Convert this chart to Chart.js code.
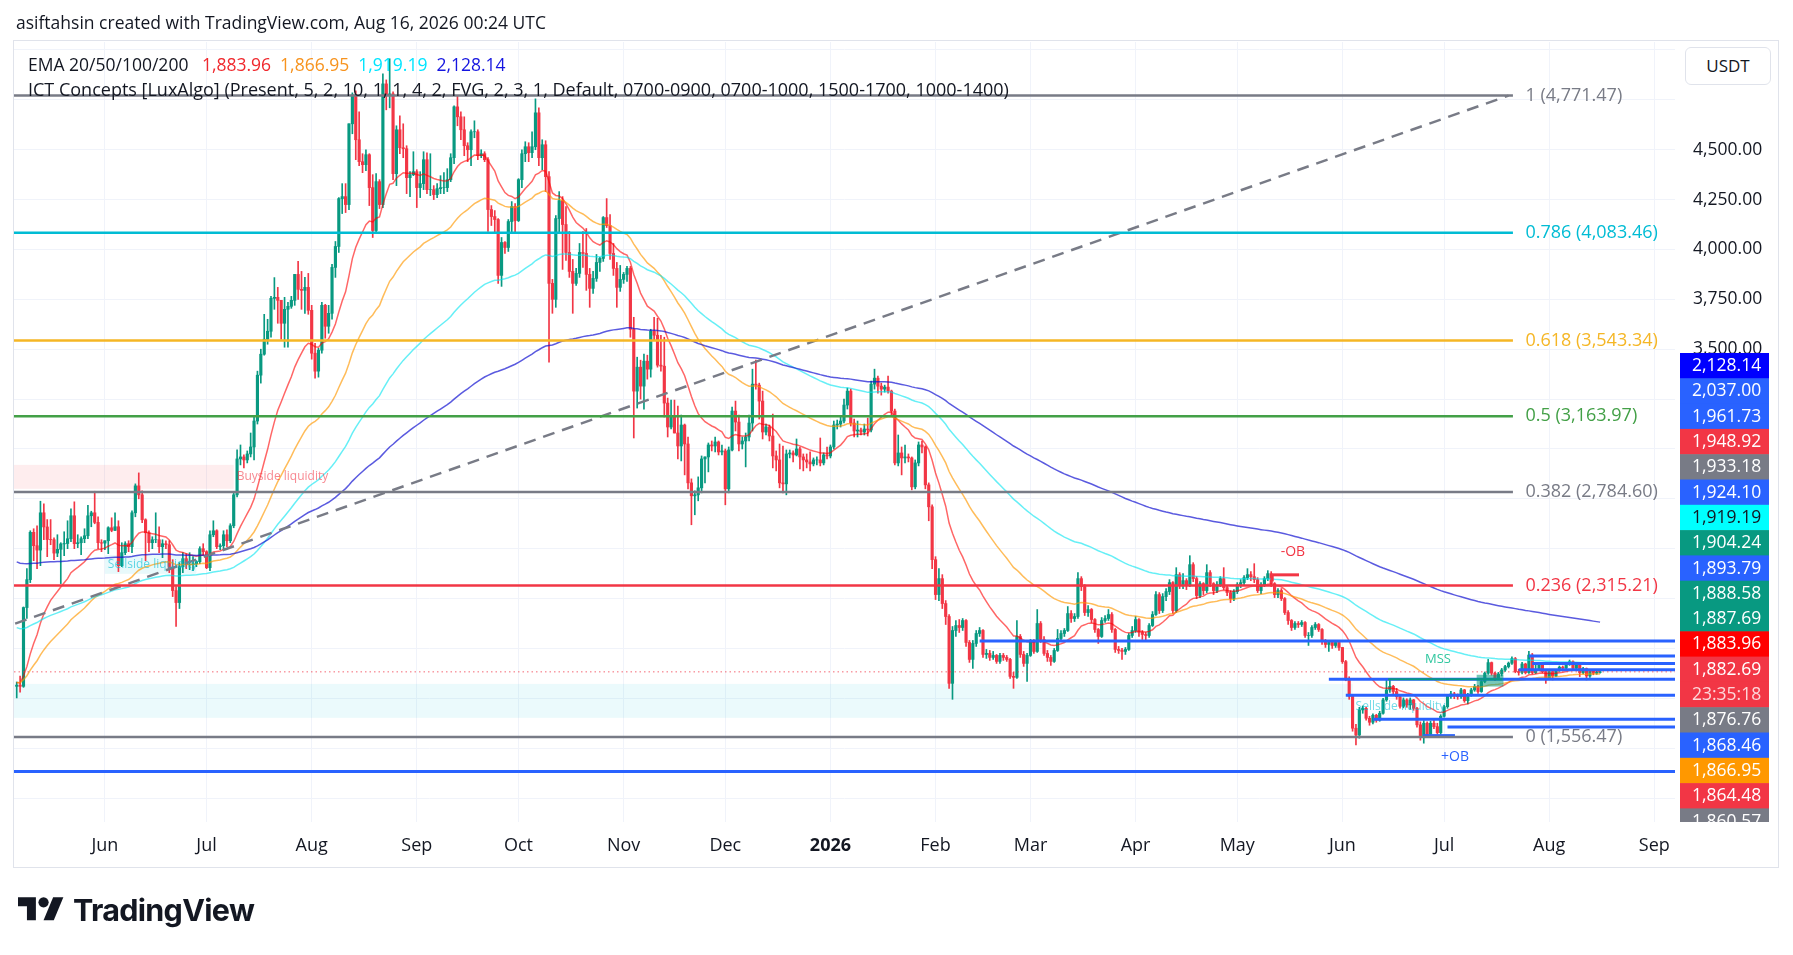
<!DOCTYPE html>
<html>
<head>
<meta charset="utf-8">
<title>ETHUSDT 1D</title>
<script src="https://cdn.jsdelivr.net/npm/chart.js@4.4.1/dist/chart.umd.min.js"></script>
<style>
  html, body { margin: 0; padding: 0; background: #fff; }
  body { width: 1793px; height: 955px; overflow: hidden; position: relative;
         font-family: 'Open Sans', sans-serif; color: #131722; }
  #wrap { position: absolute; left: 0; top: 0; width: 1793px; height: 955px; }
  .abs { position: absolute; white-space: nowrap; }
  #frame { left: 13px; top: 40px; width: 1764px; height: 826px; border: 1px solid #e0e3eb; pointer-events: none; }
  #title { left: 16px; top: 10px; font-size: 17.5px; line-height: 24px; }
  #legend1 { left: 28px; top: 52px; font-size: 17.5px; line-height: 24px; }
  #legend2 { left: 28px; top: 77px; font-size: 18px; line-height: 24px; }
  #legend1 span { margin-left: 9px; }
  #usdt { left: 1685px; top: 47px; width: 84px; height: 36px; border: 1px solid #e0e3eb; border-radius: 6px;
          font-size: 17px; line-height: 36px; text-align: center; background: #fff; }
  #logo { left: 18px; top: 892px; }
  #brand { left: 73px; top: 891px; font-family: Inter, sans-serif; font-weight: 700; font-size: 30.5px;
           line-height: 38px; letter-spacing: -0.7px; }
</style>
</head>
<body>
<div id="wrap"><canvas id="chart"></canvas></div>
<div id="frame" class="abs"></div>
<div id="title" class="abs">asiftahsin created with TradingView.com, Aug 16, 2026 00:24 UTC</div>
<div id="legend1" class="abs">EMA 20/50/100/200 <span style="color:#f0282d">1,883.96</span><span style="color:#f7931e">1,866.95</span><span style="color:#00e5ff">1,919.19</span><span style="color:#1515e0">2,128.14</span></div>
<div id="legend2" class="abs">ICT Concepts [LuxAlgo] (Present, 5, 2, 10, 1, 1, 4, 2, FVG, 2, 3, 1, Default, 0700-0900, 0700-1000, 1500-1700, 1000-1400)</div>
<div id="usdt" class="abs">USDT</div>
<svg id="logo" class="abs" width="46" height="36" viewBox="0 0 36 28">
  <path d="M14 22H7V11H0V4h14v18z" fill="#131722"/>
  <circle cx="20" cy="8" r="4" fill="#131722"/>
  <path d="M28 22h-8l7.5-18h8L28 22z" fill="#131722"/>
</svg>
<div id="brand" class="abs">TradingView</div>

<script>
// daily ETHUSDT candles, May 6 2025 .. Aug 16 2026; x = days counted from Jun 1 2025
const startDay = -26;
const firstOpen = 1810;

const closes = [
  1816,1810,2205,2345,2582,2515,2493,2680,2609,2546,2545,2478,2497,2524,2526,2550,2665,2525,2530,2550,2565,2665,2680,2632,2530,2528,
  2540,2605,2592,2610,2415,2480,2525,2510,2680,2815,2770,2645,2580,2530,2545,2545,2510,2525,2520,2405,2290,2230,2410,2450,2420,2420,2425,2435,2500,2485,
  2405,2570,2590,2510,2515,2570,2540,2615,2770,2950,2960,2945,2975,3010,3140,3370,3475,3550,3590,3755,3760,3745,3630,3700,3715,3745,3875,3800,3795,3810,3695,
  3480,3390,3495,3720,3615,3680,3910,4015,4255,4265,4225,4630,4775,4550,4440,4425,4475,4310,4095,4340,4225,4830,4775,4780,4380,4600,4510,4505,4360,4375,4390,
  4310,4330,4450,4300,4300,4275,4305,4310,4310,4350,4460,4715,4665,4600,4520,4500,4590,4590,4470,4480,4450,4200,4165,4150,3870,4035,4010,4140,4215,4145,
  4350,4480,4515,4485,4515,4685,4460,4525,4365,3830,3750,4155,4245,4125,3985,3890,3830,3880,3985,3980,3875,3805,3855,3935,3955,4160,4120,3980,3905,3810,3850,
  3875,3905,3600,3290,3410,3315,3440,3400,3590,3570,3420,3415,3230,3110,3165,3080,3015,3120,3025,2830,2765,2770,2805,2950,2960,3020,3015,3035,2985,2990,
  2800,2995,3190,3135,3025,3040,3060,3130,3325,3320,3240,3085,3110,3065,2965,2945,2830,2825,2975,2980,2970,3000,2960,2945,2935,2925,2945,2945,2930,2970,2965,
  3010,3120,3125,3140,3220,3290,3130,3090,3095,3085,3100,3095,3325,3355,3315,3300,3310,3290,3190,2930,2980,2955,2960,2955,2810,2930,3020,3010,2820,2710,2445,
  2270,2350,2225,2160,1825,2090,2115,2105,2140,2030,1945,2025,2075,2090,1970,1975,1955,1965,1935,1965,1955,1945,1860,1855,2060,1970,1925,1965,
  2040,1985,2125,2045,1975,1955,1935,1990,2050,2075,2090,2175,2150,2160,2350,2310,2180,2195,2145,2095,2060,2140,2150,2170,2095,1995,1990,1985,1995,2065,2090,
  2145,2080,2070,2065,2115,2170,2270,2190,2260,2285,2330,2190,2370,2315,2340,2320,2420,2350,2265,2325,2290,2380,2325,2290,2320,2350,2305,2280,2250,2285,
  2320,2330,2355,2370,2360,2345,2290,2320,2350,2375,2325,2270,2290,2250,2180,2140,2105,2125,2120,2130,2065,2065,2105,2120,2095,2040,2020,2030,2015,2030,2005,
  1934,1850,1760,1600,1566,1692,1700,1650,1630,1665,1640,1675,1742,1792,1810,1784,1758,1710,1742,1717,1742,1700,1617,1558,1625,1570,1625,1608,1578,1660,
  1708,1760,1772,1762,1758,1792,1738,1767,1792,1809,1784,1834,1876,1929,1876,1850,1872,1892,1909,1926,1949,1884,1880,1922,1879,1967,1879,1895,1917,1884,1850,
  1884,1862,1889,1906,1902,1922,1934,1901,1916,1879,1899,1862,1884,1876,1880,1882.69
];
const highs = [
  1832,1862,2208,2400,2590,2600,2615,2738,2725,2646,2646,2555,2570,2530,2585,2640,2700,2735,2570,2560,2600,2718,2688,2788,2660,2545,
  2540,2610,2655,2680,2640,2530,2535,2540,2690,2825,2880,2790,2650,2590,2560,2680,2610,2545,2540,2540,2445,2310,2430,2480,2475,2480,2460,2440,2510,2525,
  2490,2590,2640,2595,2525,2590,2595,2625,2785,2995,3020,2970,2990,3080,3160,3390,3500,3675,3650,3765,3859,3810,3745,3760,3735,3765,3875,3941,3890,3860,3880,
  3720,3530,3505,3735,3725,3720,3925,4040,4260,4330,4330,4630,4785,4795,4690,4480,4500,4480,4375,4380,4350,4880,4850,4956,4790,4620,4670,4630,4520,4390,4490,
  4400,4390,4490,4485,4480,4320,4330,4370,4385,4405,4480,4720,4770,4690,4665,4535,4600,4645,4600,4500,4490,4460,4220,4195,4155,4060,4040,4150,4240,4230,
  4355,4500,4540,4535,4590,4755,4710,4550,4545,4390,3850,4170,4290,4265,4215,4090,3950,3905,4030,4090,4105,3905,3890,3975,3960,4165,4255,4175,4030,3935,3920,
  3885,3915,3915,3660,3460,3445,3475,3470,3600,3660,3655,3570,3560,3255,3245,3245,3215,3170,3125,3060,2850,2790,2860,2965,2960,3030,3040,3060,3040,3020,
  3000,3010,3210,3240,3170,3060,3080,3170,3400,3445,3330,3290,3125,3120,3175,2990,3025,3015,2995,2995,2990,3050,3010,2975,2975,2985,2955,2960,3055,2980,3010,
  3020,3140,3145,3160,3250,3305,3300,3150,3140,3105,3125,3155,3340,3400,3365,3330,3320,3365,3295,3200,3070,3010,3020,2975,2960,2945,3035,3040,3015,2830,2720,
  2460,2400,2370,2240,2170,2110,2140,2145,2150,2145,2040,2040,2090,2105,2095,1995,1990,1985,1970,1975,1975,1965,1950,1880,2140,2070,1985,1975,
  2045,2045,2195,2135,2060,1990,1965,2000,2095,2090,2100,2210,2190,2175,2380,2360,2320,2215,2200,2150,2100,2155,2165,2195,2180,2100,2010,2000,2005,2075,2110,
  2160,2150,2090,2080,2125,2185,2285,2280,2275,2300,2345,2335,2405,2380,2375,2350,2465,2430,2360,2335,2330,2420,2390,2330,2335,2360,2405,2315,2290,2295,
  2330,2345,2365,2400,2385,2425,2355,2330,2360,2390,2385,2330,2300,2300,2255,2190,2145,2135,2135,2140,2135,2080,2115,2130,2125,2100,2045,2040,2035,2040,2035,
  2005,1940,1858,1768,1620,1705,1712,1705,1660,1672,1670,1685,1750,1842,1845,1815,1800,1762,1752,1748,1752,1745,1705,1632,1638,1632,1635,1640,1625,1668,
  1715,1770,1785,1780,1772,1800,1795,1775,1800,1820,1815,1840,1882,1945,1932,1880,1880,1900,1915,1932,1958,1955,1895,1930,1926,1986,1975,1916,1922,1922,1888,
  1890,1890,1895,1912,1912,1928,1942,1938,1922,1920,1905,1902,1890,1893,1895,1885
];
const lows = [
  1752,1781,1805,2150,2330,2440,2400,2415,2545,2460,2520,2445,2460,2325,2465,2500,2535,2500,2505,2470,2530,2550,2610,2625,2500,2485,
  2495,2475,2585,2590,2385,2410,2470,2485,2480,2660,2750,2630,2440,2485,2500,2530,2480,2455,2500,2380,2260,2111,2200,2380,2400,2395,2390,2410,2425,2470,
  2400,2390,2560,2500,2495,2500,2510,2530,2605,2760,2920,2905,2930,2960,2945,3125,3330,3470,3525,3560,3700,3630,3550,3510,3510,3705,3720,3750,3700,3680,3675,
  3450,3355,3360,3480,3555,3580,3650,3860,3985,4180,4185,4200,4580,4450,4420,4385,4395,4220,4060,4080,4205,4210,4700,4710,4350,4320,4480,4460,4280,4265,4370,
  4210,4260,4300,4280,4270,4250,4260,4280,4280,4290,4340,4430,4620,4550,4470,4440,4420,4560,4450,4460,4440,4090,4120,4080,3830,3815,3980,3990,4080,4080,
  4140,4310,4440,4440,4460,4500,4420,4400,4290,3435,3680,3710,4080,3900,3945,3860,3680,3820,3860,3910,3795,3710,3780,3840,3890,3940,4110,3950,3870,3710,3790,
  3830,3840,3560,3055,3205,3250,3200,3350,3360,3545,3410,3390,3160,3060,3100,3080,2950,2940,2870,2800,2620,2670,2740,2780,2830,2885,2990,2985,2970,2970,
  2720,2780,2990,3090,2990,3000,2910,3040,3090,3300,3150,3050,3070,3040,2905,2890,2805,2780,2770,2955,2935,2965,2900,2890,2905,2890,2915,2920,2915,2920,2950,
  2955,3000,3100,3110,3130,3200,3115,3060,3060,3070,3070,3065,3085,3300,3280,3270,3285,3280,3170,2920,2915,2870,2930,2935,2795,2800,2915,2980,2800,2640,2400,
  2245,2240,2200,2120,1800,1745,2060,2080,2090,2010,1930,1900,2010,2060,1955,1950,1940,1945,1925,1925,1940,1935,1850,1800,1850,1955,1910,1835,
  1960,1975,1980,2030,1965,1935,1915,1930,1985,2040,2060,2085,2130,2135,2150,2290,2165,2160,2130,2080,2025,2055,2130,2140,2080,1980,1975,1945,1970,1990,2055,
  2080,2060,2045,2035,2055,2110,2165,2175,2180,2240,2270,2175,2180,2300,2300,2295,2310,2335,2250,2255,2270,2280,2310,2270,2280,2310,2295,2265,2230,2240,
  2275,2305,2320,2345,2340,2330,2280,2275,2310,2340,2310,2255,2255,2240,2170,2120,2090,2095,2105,2110,2055,2015,2055,2095,2085,2020,2005,1985,2000,2005,1990,
  1925,1838,1745,1585,1516,1550,1675,1640,1615,1622,1630,1635,1670,1735,1780,1770,1745,1700,1702,1705,1695,1690,1605,1540,1525,1560,1565,1598,1570,1570,
  1655,1700,1750,1748,1745,1750,1730,1722,1760,1785,1775,1780,1828,1870,1866,1838,1845,1862,1885,1902,1920,1878,1866,1872,1872,1875,1872,1874,1888,1878,1825,
  1845,1842,1858,1885,1895,1898,1915,1895,1896,1859,1872,1842,1855,1868,1870,1876
];

// EMA 20/50/100/200, seeded with the values shown at the left edge
const emaPeriods = [20, 50, 100, 200];
const emaSeeds = [1830, 1830, 2110, 2440];

// time axis
const monthDays = [0, 30, 61, 92, 122, 153, 183, 214, 245, 273, 304, 334, 365, 395, 426, 457];
const monthLabels = ['Jun', 'Jul', 'Aug', 'Sep', 'Oct', 'Nov', 'Dec', '2026', 'Feb', 'Mar', 'Apr', 'May', 'Jun', 'Jul', 'Aug', 'Sep'];

// Fibonacci retracement
const fibRatios = ['1', '0.786', '0.618', '0.5', '0.382', '0.236', '0'];
const fibPrices = [4771.47, 4083.46, 3543.34, 3163.97, 2784.60, 2315.21, 1556.47];
const fibTrendDays = [-121, 414];
const fibTrendPrices = [1556.47, 4771.47];
const fibEndDay = 415.3;
const fibLabelDay = 419;

// ICT levels (price, first day)
const levelPrices = [2037.00, 1961.73, 1924.10, 1893.79, 1845.5, 1765, 1645, 1606, 1383];
const levelFrom = [258, 420, 421, 417, 361, 366, 374, 396, -27];

// liquidity zones
const zoneNames = ['Buyside liquidity', 'Sellside liquidity', 'Sellside liquidity'];
const zoneFrom = [-27, 0, -27];
const zoneTo = [38, 27, 368];
const zoneHigh = [2920, 2468, 1822];
const zoneLow = [2800, 2374, 1652];

// order blocks / structure
const bearObDays = [344.3, 352.2], bearObPrice = 2369, bearObLow = 2336;
const bullObDays = [388.8, 398.2], bullObPrice = 1563;
const mssDays = [378.5, 412], mssPrice = 1845.5;
const fvgDays = [404.6, 412.5], fvgPrices = [1868, 1809];

// price scale tags on the right, top to bottom
const axisTagTexts = ['2,128.14', '2,037.00', '1,961.73', '1,948.92', '1,933.18', '1,924.10', '1,919.19', '1,904.24', '1,893.79',
  '1,888.58', '1,887.69', '1,883.96', '1,882.69', '23:35:18', '1,876.76', '1,868.46', '1,866.95', '1,864.48', '1,860.57'];
const axisTagKinds = ['ema200', 'ict', 'ict', 'bear', 'gray', 'ict', 'ema100', 'bull', 'ict',
  'bull', 'bull', 'ema20', 'last', 'timer', 'gray', 'ict', 'ema50', 'bear', 'gray'];

const days = closes.map((_, i) => startDay + i);
const opens = closes.map((c, i) => i === 0 ? firstOpen : closes[i - 1]);
const candleColors = closes.map((c, i) => c >= opens[i] ? '#089981' : '#f23645');

function ema(values, period, seed) {
  const k = 2 / (period + 1);
  let e = seed;
  return values.map(v => (e = v * k + e * (1 - k)));
}

function fmt(v) {
  return Number(v).toLocaleString('en-US', { minimumFractionDigits: 2, maximumFractionDigits: 2 });
}

const FONT = "'Open Sans', sans-serif";
Chart.defaults.font.family = FONT;

const emaColors = ['rgba(255,0,0,0.6)', 'rgba(255,152,0,0.65)', 'rgba(0,229,240,0.6)', 'rgba(20,20,210,0.7)'];
const emaSets = emaPeriods.map((p, j) => {
  const vals = ema(closes, p, emaSeeds[j]);
  return {
    type: 'line',
    data: days.map((d, i) => ({ x: d, y: vals[i] })),
    borderColor: emaColors[j],
    borderWidth: 1.5,
    pointRadius: 0,
    tension: 0,
    order: 4 - j
  };
});

const tagStyles = {
  ema200: ['#0000ff', '#fff'], ema100: ['#00ffff', '#131722'], ema50: ['#ff9800', '#fff'], ema20: ['#ff0000', '#fff'],
  ict: ['#2962ff', '#fff'], bear: ['#f23645', '#fff'], bull: ['#089981', '#fff'], gray: ['#787b86', '#fff'],
  last: ['#f23645', '#fff'], timer: ['#f23645', 'rgba(255,255,255,0.8)']
};
const fibColors = ['#787b86', '#00bcd4', '#f5b625', '#43a047', '#787b86', '#f23645', '#787b86'];

function hline(ctx, x0, x1, yy) {
  ctx.beginPath(); ctx.moveTo(x0, yy); ctx.lineTo(x1, yy); ctx.stroke();
}

const overlay = {
  id: 'overlay',
  beforeDatasetsDraw(chart) {
    const { ctx, chartArea: a, scales: { x, y } } = chart;
    ctx.save();
    ctx.beginPath(); ctx.rect(a.left, a.top, a.width, a.height); ctx.clip();
    const fills = ['rgba(242,54,69,0.09)', 'rgba(0,188,212,0.09)', 'rgba(0,188,212,0.08)'];
    zoneFrom.forEach((f, i) => {
      const x0 = x.getPixelForValue(f), x1 = x.getPixelForValue(zoneTo[i]);
      const y0 = y.getPixelForValue(zoneHigh[i]), y1 = y.getPixelForValue(zoneLow[i]);
      ctx.fillStyle = fills[i];
      ctx.fillRect(x0, y0, x1 - x0, y1 - y0);
    });
    ctx.restore();
  },
  afterDatasetsDraw(chart) {
    const { ctx, chartArea: a, scales: { x, y } } = chart;
    ctx.save();
    ctx.beginPath(); ctx.rect(a.left, a.top, a.width, a.height); ctx.clip();
    ctx.font = '12px ' + FONT;
    ctx.textBaseline = 'middle';
    const textCols = ['rgba(242,54,69,0.6)', 'rgba(0,188,212,0.6)', 'rgba(0,188,212,0.55)'];
    zoneNames.forEach((t, i) => {
      const yy = y.getPixelForValue((zoneHigh[i] + zoneLow[i]) / 2);
      const xx = i === 1 ? x.getPixelForValue(zoneFrom[i]) + 3 : x.getPixelForValue(zoneTo[i]) + 3;
      ctx.fillStyle = textCols[i];
      ctx.fillText(t, xx, i === 2 ? y.getPixelForValue(1707) : yy);
    });

    // ICT levels
    ctx.strokeStyle = '#2962ff'; ctx.lineWidth = 3;
    levelPrices.forEach((p, i) => hline(ctx, x.getPixelForValue(levelFrom[i]), a.right, y.getPixelForValue(p)));

    // MSS
    ctx.strokeStyle = '#089981'; ctx.lineWidth = 2;
    hline(ctx, x.getPixelForValue(mssDays[0]), x.getPixelForValue(mssDays[1]), y.getPixelForValue(mssPrice));
    ctx.fillStyle = 'rgba(8,153,129,0.55)';
    const fx0 = x.getPixelForValue(fvgDays[0]), fx1 = x.getPixelForValue(fvgDays[1]);
    const fy0 = y.getPixelForValue(fvgPrices[0]), fy1 = y.getPixelForValue(fvgPrices[1]);
    ctx.fillRect(fx0, fy0, fx1 - fx0, fy1 - fy0);
    ctx.font = '13px ' + FONT;
    ctx.fillStyle = '#2fc79f'; ctx.textAlign = 'center';
    ctx.fillText('MSS', x.getPixelForValue(393.2), y.getPixelForValue(1947));

    // order blocks
    ctx.strokeStyle = '#f23645'; ctx.lineWidth = 3;
    const bx = x.getPixelForValue(bearObDays[0]);
    hline(ctx, bx, x.getPixelForValue(bearObDays[1]), y.getPixelForValue(bearObPrice));
    ctx.beginPath(); ctx.moveTo(bx, y.getPixelForValue(bearObPrice)); ctx.lineTo(bx, y.getPixelForValue(bearObLow)); ctx.stroke();
    ctx.font = '14px ' + FONT;
    ctx.fillStyle = '#f23645';
    ctx.fillText('-OB', x.getPixelForValue(350.4), y.getPixelForValue(2484));
    ctx.strokeStyle = '#2962ff';
    hline(ctx, x.getPixelForValue(bullObDays[0]), x.getPixelForValue(bullObDays[1]), y.getPixelForValue(bullObPrice));
    ctx.fillStyle = '#2962ff';
    ctx.fillText('+OB', x.getPixelForValue(398.2), y.getPixelForValue(1456));

    // last price dotted line
    ctx.strokeStyle = 'rgba(242,54,69,0.75)'; ctx.lineWidth = 1; ctx.setLineDash([1.5, 3]);
    hline(ctx, a.left, a.right, y.getPixelForValue(closes[closes.length - 1]));
    ctx.setLineDash([]);

    // fibonacci levels
    ctx.textAlign = 'left';
    ctx.font = '18px ' + FONT;
    fibPrices.forEach((p, i) => {
      const yy = y.getPixelForValue(p);
      ctx.strokeStyle = fibColors[i]; ctx.lineWidth = 2.5;
      hline(ctx, a.left, x.getPixelForValue(fibEndDay), yy);
      ctx.fillStyle = fibColors[i];
      ctx.fillText(fibRatios[i] + ' (' + fmt(p) + ')', x.getPixelForValue(fibLabelDay), yy);
    });
    ctx.restore();
  },
  afterDraw(chart) {
    const { ctx, chartArea: a } = chart;
    const tagTop = 353, tagStep = 25.3;
    ctx.save();
    ctx.beginPath(); ctx.rect(a.right, a.top, chart.width - a.right, a.bottom - a.top); ctx.clip();
    ctx.font = '17.5px ' + FONT;
    ctx.textBaseline = 'middle';
    ctx.textAlign = 'left';
    axisTagTexts.forEach((t, i) => {
      const st = tagStyles[axisTagKinds[i]];
      const top = tagTop + i * tagStep;
      ctx.fillStyle = st[0];
      ctx.fillRect(a.right + 5, top, 89, tagStep + 0.6);
      ctx.fillStyle = st[1];
      ctx.fillText(t, a.right + 17, top + tagStep / 2 + 0.5);
    });
    ctx.restore();
  }
};

new Chart(document.getElementById('chart'), {
  type: 'bar',
  data: {
    datasets: [
      {
        data: days.map((d, i) => ({ x: d, y: [lows[i], highs[i]] })),
        backgroundColor: candleColors,
        barThickness: 1,
        grouped: false,
        order: 20
      },
      {
        data: days.map((d, i) => ({ x: d, y: [opens[i], closes[i]] })),
        backgroundColor: candleColors,
        barThickness: 2.5,
        grouped: false,
        order: 19
      },
      ...emaSets,
      {
        type: 'line',
        data: fibTrendDays.map((d, i) => ({ x: d, y: fibTrendPrices[i] })),
        borderColor: '#787b86',
        borderDash: [12, 8],
        borderWidth: 2.5,
        pointRadius: 0,
        order: 0
      }
    ]
  },
  options: {
    responsive: true,
    maintainAspectRatio: false,
    animation: false,
    events: [],
    layout: { padding: { left: 14, right: 15, top: 42, bottom: 88 } },
    plugins: {
      legend: { display: false },
      tooltip: { enabled: false }
    },
    scales: {
      x: {
        type: 'linear',
        min: -26.8,
        max: 463.1,
        offset: false,
        grid: { color: '#f0f3fa', drawTicks: false, offset: false },
        border: { display: false },
        afterBuildTicks: s => { s.ticks = monthDays.map(v => ({ value: v })); },
        afterFit: s => { s.height = 45; },
        ticks: {
          autoSkip: false,
          maxRotation: 0,
          padding: 13,
          color: '#131722',
          font: c => ({ family: FONT, size: 18, weight: (c.tick && c.tick.label === '2026') ? '700' : '400' }),
          callback: v => monthLabels[monthDays.indexOf(v)] || ''
        }
      },
      y: {
        type: 'linear',
        position: 'right',
        min: 1130,
        max: 5040,
        grid: { color: '#f0f3fa', drawTicks: false },
        border: { display: false },
        afterFit: s => { s.width = 103; },
        ticks: {
          stepSize: 250,
          includeBounds: false,
          padding: 18,
          color: '#131722',
          font: { family: FONT, size: 17.5 },
          callback: v => (v >= 3500 && v <= 4500) ? fmt(v) : ''
        }
      }
    }
  },
  plugins: [overlay]
});
</script>
</body>
</html>
